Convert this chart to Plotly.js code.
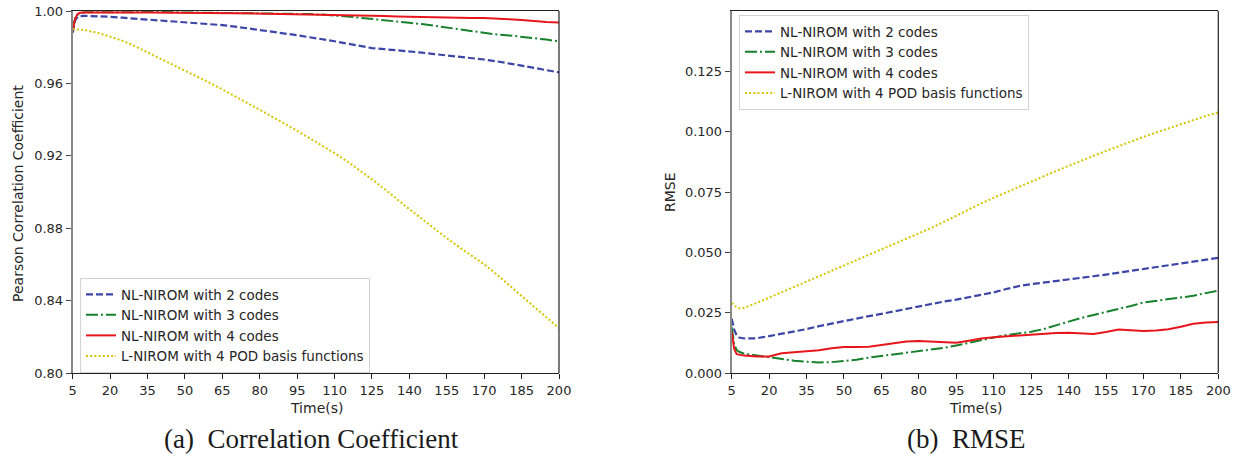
<!DOCTYPE html>
<html>
<head>
<meta charset="utf-8">
<script src="https://cdn.plot.ly/plotly-3.0.1.min.js"></script>
<style>html,body{margin:0;padding:0;background:#fff;}#chart{width:1243px;height:457px;}</style>
</head>
<body>
<div id="chart"></div>
<script>
// ---- data ----
const timeS = [5,6,7,8,10,15,20,25,30,35,40,45,50,55,60,65,70,75,80,85,90,95,100,105,110,115,120,125,130,135,140,145,150,155,160,165,170,175,180,185,190,195,200];

const seriesNames = ["NL-NIROM with 2 codes","NL-NIROM with 3 codes","NL-NIROM with 4 codes","L-NIROM with 4 POD basis functions"];

// (a) Pearson correlation coefficient
const cc2codes = [0.9880,0.9950,0.9968,0.9972,0.9973,0.9972,0.9968,0.9963,0.9958,0.9953,0.9948,0.9943,0.9937,0.9933,0.9928,0.9922,0.9914,0.9905,0.9895,0.9886,0.9877,0.9866,0.9855,0.9845,0.9833,0.9820,0.9806,0.9795,0.9789,0.9784,0.9778,0.9770,0.9762,0.9755,0.9747,0.9740,0.9732,0.9722,0.9711,0.9700,0.9686,0.9673,0.9661];
const cc3codes = [0.9900,0.9960,0.9980,0.9990,0.9993,0.9994,0.9994,0.9994,0.9994,0.9994,0.9994,0.9993,0.9993,0.9993,0.9992,0.9992,0.9991,0.9990,0.9990,0.9988,0.9987,0.9985,0.9983,0.9980,0.9977,0.9970,0.9963,0.9957,0.9950,0.9942,0.9935,0.9928,0.9918,0.9908,0.9898,0.9888,0.9878,0.9870,0.9865,0.9858,0.9850,0.9842,0.9832];
const cc4codes = [0.9890,0.9960,0.9985,0.9990,0.9992,0.9993,0.9993,0.9993,0.9992,0.9992,0.9992,0.9991,0.9991,0.9990,0.9990,0.9989,0.9988,0.9987,0.9986,0.9985,0.9984,0.9983,0.9982,0.9980,0.9979,0.9977,0.9976,0.9974,0.9972,0.9970,0.9968,0.9966,0.9964,0.9963,0.9962,0.9962,0.9961,0.9959,0.9955,0.9950,0.9943,0.9939,0.9936];
const ccPOD4 = [0.9900,0.9899,0.9898,0.9897,0.9894,0.9880,0.9860,0.9836,0.9805,0.9772,0.9738,0.9705,0.9672,0.9638,0.9603,0.9567,0.9530,0.9493,0.9455,0.9417,0.9378,0.9338,0.9298,0.9257,0.9215,0.9170,0.9122,0.9070,0.9017,0.8960,0.8905,0.8852,0.8797,0.8745,0.8695,0.8648,0.8600,0.8545,0.8487,0.8427,0.8366,0.8307,0.8247];

// (b) RMSE
const rmse2codes = [0.0225,0.0180,0.0155,0.0147,0.0143,0.0144,0.0153,0.0162,0.0172,0.0182,0.0194,0.0205,0.0215,0.0225,0.0236,0.0245,0.0255,0.0267,0.0278,0.0288,0.0296,0.0304,0.0314,0.0323,0.0334,0.0348,0.0360,0.0368,0.0374,0.0380,0.0386,0.0394,0.0401,0.0408,0.0416,0.0422,0.0430,0.0440,0.0448,0.0456,0.0463,0.0470,0.0477];
const rmse3codes = [0.0190,0.0120,0.0095,0.0088,0.0080,0.0072,0.0066,0.0058,0.0051,0.0047,0.0044,0.0045,0.0049,0.0055,0.0064,0.0071,0.0076,0.0084,0.0091,0.0097,0.0104,0.0114,0.0126,0.0137,0.0147,0.0157,0.0163,0.0171,0.0182,0.0196,0.0213,0.0228,0.0240,0.0252,0.0265,0.0278,0.0292,0.0299,0.0303,0.0310,0.0320,0.0331,0.0341];
const rmse4codes = [0.0170,0.0100,0.0078,0.0075,0.0072,0.0068,0.0068,0.0082,0.0086,0.0088,0.0094,0.0103,0.0108,0.0108,0.0109,0.0116,0.0125,0.0131,0.0133,0.0131,0.0129,0.0125,0.0134,0.0143,0.0148,0.0152,0.0155,0.0157,0.0161,0.0166,0.0167,0.0165,0.0162,0.0170,0.0180,0.0177,0.0174,0.0176,0.0181,0.0192,0.0204,0.0209,0.0211];
const rmsePOD4 = [0.0290,0.0280,0.0272,0.0268,0.0270,0.0290,0.0312,0.0334,0.0357,0.0379,0.0401,0.0423,0.0445,0.0467,0.0489,0.0511,0.0533,0.0555,0.0578,0.0601,0.0626,0.0652,0.0680,0.0703,0.0726,0.0749,0.0771,0.0793,0.0815,0.0837,0.0859,0.0880,0.0900,0.0920,0.0940,0.0959,0.0978,0.0996,0.1014,0.1032,0.1049,0.1065,0.1080];

const xTicks = [5,20,35,50,65,80,95,110,125,140,155,170,185,200];
const ccTicks = [0.80,0.84,0.88,0.92,0.96,1.00];
const rmseTicks = [0.000,0.025,0.050,0.075,0.100,0.125];

// ---- styles ----
const styles = [
  {color:'#3c46a6', dash:'7px,3px', width:2.2},
  {color:'#17812b', dash:'12px,3px,2px,3px', width:2},
  {color:'#e8161c', dash:'solid', width:2},
  {color:'#d4c700', dash:'2px,2.2px', width:2}
];

const ccSeries = [cc2codes, cc3codes, cc4codes, ccPOD4];
const rmseSeries = [rmse2codes, rmse3codes, rmse4codes, rmsePOD4];

const traces = [];
ccSeries.forEach((ys,i)=>{
  traces.push({x:timeS, y:ys, type:'scatter', mode:'lines', name:seriesNames[i],
    line:{color:styles[i].color, dash:styles[i].dash, width:styles[i].width},
    xaxis:'x', yaxis:'y', legend:'legend'});
});
rmseSeries.forEach((ys,i)=>{
  traces.push({x:timeS, y:ys, type:'scatter', mode:'lines', name:seriesNames[i],
    line:{color:styles[i].color, dash:styles[i].dash, width:styles[i].width},
    xaxis:'x2', yaxis:'y2', legend:'legend2'});
});

const W=1243, H=457;
const px = v=>v/W, py = v=>1-v/H;
const tickFont = {family:'DejaVu Sans', size:13, color:'#262626'};
const legFont = {family:'DejaVu Sans', size:13.5, color:'#262626'};

const xCommon = {range:[5,200], tickvals:xTicks, ticks:'outside', ticklen:5, tickwidth:1,
  tickcolor:'#222', linecolor:'#222', linewidth:1.2, showline:true, mirror:true,
  showgrid:false, zeroline:false, tickfont:tickFont, fixedrange:true};
const yCommon = {ticks:'outside', ticklen:5, tickwidth:1, tickcolor:'#444',
  linecolor:'#888', linewidth:2, showline:true, mirror:false,
  showgrid:false, zeroline:false, tickfont:tickFont, fixedrange:true};

const layout = {
  width:W, height:H, margin:{l:0,r:0,t:0,b:0},
  paper_bgcolor:'#fff', plot_bgcolor:'#fff', showlegend:true,
  font:{family:'DejaVu Sans', color:'#262626'},
  xaxis: Object.assign({}, xCommon, {domain:[px(72.7), px(559)], anchor:'y'}),
  yaxis: Object.assign({}, yCommon, {domain:[py(373), py(11)], anchor:'x', range:[0.80,1.00], tickvals:ccTicks, tickformat:'.2f'}),
  xaxis2: Object.assign({}, xCommon, {domain:[px(731.7), px(1218.3)], anchor:'y2'}),
  yaxis2: Object.assign({}, yCommon, {domain:[py(373), py(11)], anchor:'x2', range:[0,0.15], tickvals:rmseTicks, tickformat:'.3f'}),
  legend: {x:px(80), y:py(278), xanchor:'left', yanchor:'top', bgcolor:'rgba(255,255,255,0.85)',
    bordercolor:'#d3d3d3', borderwidth:1, font:legFont, itemwidth:30, tracegroupgap:0},
  legend2: {x:px(739), y:py(15), xanchor:'left', yanchor:'top', bgcolor:'rgba(255,255,255,0.85)',
    bordercolor:'#d3d3d3', borderwidth:1, font:legFont, itemwidth:30, tracegroupgap:0},
  shapes: [
    {type:'line', xref:'x domain', yref:'y domain', x0:1, x1:1, y0:0, y1:1, line:{color:'#222', width:1.2}},
    {type:'line', xref:'x2 domain', yref:'y2 domain', x0:1, x1:1, y0:0, y1:1, line:{color:'#222', width:1.2}}
  ],
  annotations: [
    {text:'Pearson Correlation Coefficient', xref:'paper', yref:'paper', x:px(18), y:py(194), textangle:-90,
      showarrow:false, font:{family:'DejaVu Sans', size:14, color:'#262626'}, xanchor:'center', yanchor:'middle'},
    {text:'RMSE', xref:'paper', yref:'paper', x:px(670), y:py(192), textangle:-90,
      showarrow:false, font:{family:'DejaVu Sans', size:14, color:'#262626'}, xanchor:'center', yanchor:'middle'},
    {text:'Time(s)', xref:'paper', yref:'paper', x:px(316), y:py(408), showarrow:false,
      font:{family:'DejaVu Sans', size:14, color:'#262626'}, xanchor:'center', yanchor:'middle'},
    {text:'Time(s)', xref:'paper', yref:'paper', x:px(975), y:py(408), showarrow:false,
      font:{family:'DejaVu Sans', size:14, color:'#262626'}, xanchor:'center', yanchor:'middle'},
    {text:'(a)  Correlation Coefficient', xref:'paper', yref:'paper', x:px(311), y:py(439), showarrow:false,
      font:{family:'Liberation Serif', size:27, color:'#1a1a1a'}, xanchor:'center', yanchor:'middle'},
    {text:'(b)  RMSE', xref:'paper', yref:'paper', x:px(966.5), y:py(439), showarrow:false,
      font:{family:'Liberation Serif', size:27, color:'#1a1a1a'}, xanchor:'center', yanchor:'middle'}
  ]
};

Plotly.newPlot('chart', traces, layout, {displayModeBar:false, staticPlot:true});
</script>
</body>
</html>
